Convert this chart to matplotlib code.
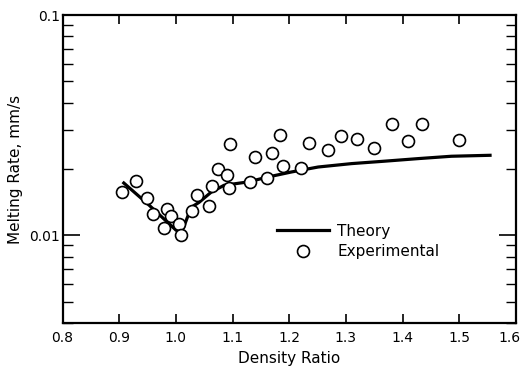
import matplotlib
matplotlib.use("Agg")
import matplotlib.pyplot as plt
import matplotlib.transforms as mtransforms
from matplotlib.ticker import FixedLocator, FixedFormatter, LogLocator, NullFormatter
from matplotlib.lines import Line2D

# Experimental data (density ratio, melting rate mm/s)
exp_x = [0.905, 0.929, 0.949, 0.960, 0.979, 0.985, 0.991, 1.005, 1.009, 1.029,
         1.038, 1.059, 1.064, 1.075, 1.091, 1.095, 1.094, 1.130, 1.140, 1.160,
         1.169, 1.183, 1.189, 1.220, 1.234, 1.269, 1.291, 1.320, 1.349, 1.382,
         1.409, 1.435, 1.499]
exp_y = [0.0157, 0.0176, 0.0147, 0.01255, 0.01084, 0.0132, 0.01226, 0.0113, 0.0100, 0.01285,
         0.01526, 0.01362, 0.0167, 0.01995, 0.01874, 0.0261, 0.01636, 0.01747, 0.02256, 0.0182,
         0.0236, 0.0285, 0.02065, 0.02016, 0.0263, 0.0243, 0.0282, 0.0275, 0.0249, 0.0319,
         0.0267, 0.0320, 0.0271]

# Theory curve
th_x = [0.906, 0.953, 1.0005, 1.013, 1.027, 1.041, 1.062, 1.085, 1.127, 1.163,
        1.204, 1.251, 1.310, 1.368, 1.428, 1.486, 1.557]
th_y = [0.01747, 0.01369, 0.01054, 0.01076, 0.01340, 0.01412, 0.01568, 0.01687, 0.01747, 0.01841,
        0.01939, 0.02042, 0.02116, 0.02170, 0.02230, 0.02285, 0.02309]

x_ticks = [0.8, 0.9, 1.0, 1.1, 1.2, 1.3, 1.4, 1.5, 1.6]
x_labels = ["0.8", "0.9", "1.0", "1.1", "1.2", "1.3", "1.4", "1.5", "1.6"]
y_ticks = [0.01, 0.1]
y_labels = ["0.01", "0.1"]

plt.rcParams['font.family'] = ['DejaVu Sans']
fig = plt.figure(figsize=(5.22, 3.74), dpi=100)
ax = fig.add_axes([62.5/522, 1-323/374, (516-62.5)/522, (323-15)/374])

ax.plot(th_x, th_y, color='black', lw=2.3, solid_capstyle='butt', zorder=2)
ax.plot(exp_x, exp_y, linestyle='none', marker='o', ms=8.6, mfc='white',
        mec='black', mew=1.2, zorder=3)

ax.set_yscale('log')
ax.set_xlim(0.8, 1.6)
ax.set_ylim(0.004, 0.1)

ax.xaxis.set_major_locator(FixedLocator(x_ticks))
ax.xaxis.set_major_formatter(FixedFormatter(x_labels))
ax.yaxis.set_major_locator(FixedLocator(y_ticks))
ax.yaxis.set_major_formatter(FixedFormatter(y_labels))
ax.yaxis.set_minor_locator(LogLocator(base=10, subs=[2, 3, 4, 5, 6, 7, 8, 9]))
ax.yaxis.set_minor_formatter(NullFormatter())

ax.tick_params(axis='x', which='major', direction='in', length=6.5, width=1.2,
               top=True, bottom=True, labelsize=10, pad=6)
ax.tick_params(axis='y', which='major', direction='in', length=12, width=1.2,
               left=True, right=True, labelsize=10, pad=2)
ax.tick_params(axis='y', which='minor', direction='in', length=7, width=1.0,
               left=True, right=True)

for s in ax.spines.values():
    s.set_linewidth(1.6)

ax.set_xlabel("Density Ratio", fontsize=11, labelpad=4)
ax.set_ylabel("Melting Rate, mm/s", fontsize=11, labelpad=4)

# nudge last x tick label left so it stays inside the figure
fig.canvas.draw()
last = ax.get_xticklabels()[-1]
last.set_transform(last.get_transform() +
                   mtransforms.ScaledTranslation(-7/100, 0, fig.dpi_scale_trans))

handles = [Line2D([], [], color='black', lw=2.3),
           Line2D([], [], linestyle='none', marker='o', ms=8.6, mfc='white', mec='black', mew=1.2)]
ax.legend(handles, ["Theory", "Experimental"], frameon=False, fontsize=11,
          loc='upper left', bbox_to_anchor=(0.474, 0.322), borderpad=0,
          borderaxespad=0, handlelength=3.4, handletextpad=0.5, labelspacing=0.35)

fig.savefig("out.png", dpi=100)
